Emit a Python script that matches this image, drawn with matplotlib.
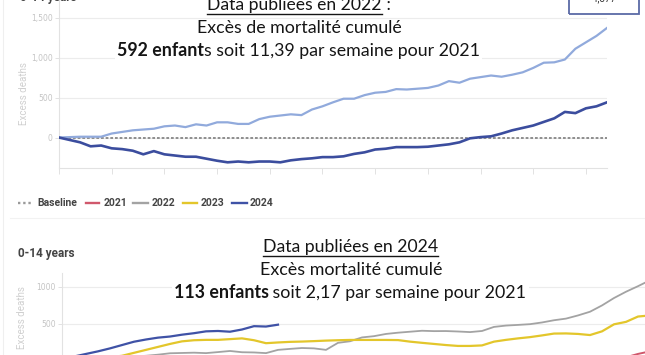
import matplotlib
matplotlib.use("Agg")
import matplotlib.pyplot as plt
from matplotlib.lines import Line2D
from matplotlib.patches import Rectangle

W, H = 645, 355
FONT = "Lato"

# ---------------- data (top chart: weekly cumulative excess deaths) ----------------
top_weeks = list(range(53))
top_light = [0, 5, 10, 10, 10, 50, 70, 90, 100, 110, 140, 150, 130, 165, 150, 190,
             190, 170, 170, 230, 260, 275, 290, 280, 350, 390, 440, 485, 485, 530,
             560, 570, 605, 600, 610, 620, 650, 705, 685, 735, 755, 775, 760, 785,
             815, 870, 935, 940, 975, 1110, 1190, 1270, 1370]
top_dark = [0, -30, -60, -110, -100, -135, -145, -165, -210, -170, -210, -225, -240,
            -240, -265, -290, -310, -300, -310, -300, -300, -310, -285, -270, -260,
            -245, -245, -235, -205, -185, -150, -140, -120, -120, -120, -115, -100,
            -85, -60, -10, 5, 15, 50, 90, 120, 150, 195, 240, 320, 305, 365, 390, 440]
top_yticks = [0, 500, 1000, 1500]
top_yticklabels = ["0", "500", "1,000", "1,500"]

# ---------------- data (bottom chart: 0-14 years) ----------------
s2024 = [0, 60, 95, 130, 170, 215, 260, 290, 315, 330, 355, 375, 400, 405, 395,
         425, 470, 465, 490]
s2023 = [0, 10, 20, 35, 50, 70, 110, 150, 190, 230, 265, 280, 285, 285, 295, 305,
         280, 240, 250, 258, 262, 268, 275, 280, 284, 284, 284, 284, 282, 261, 245,
         230, 215, 203, 203, 210, 261, 285, 305, 322, 345, 370, 372, 365, 350, 400,
         495, 528, 600, 615]
s2022 = [0, 10, 20, 30, 40, 50, 60, 70, 85, 104, 108, 112, 106, 120, 135, 118, 115,
         106, 150, 163, 175, 170, 150, 245, 266, 318, 335, 365, 382, 395, 408, 403,
         404, 398, 390, 405, 460, 478, 487, 497, 520, 550, 572, 615, 665, 750, 850,
         935, 1010, 1090]
s2021 = [0, -10, -20, -30, -35, -40, -45, -50, -55, -60, -60, -65, -70, -70, -75,
         -75, -80, -80, -85, -85, -90, -90, -90, -85, -85, -80, -80, -75, -75, -70,
         -70, -65, -60, -60, -55, -50, -50, -45, -40, -35, -30, -30, -25, -20, -15,
         0, 20, 50, 95, 130]
bot_yticks = [500, 1000]
bot_yticklabels = ["500", "1000"]

legend_labels = ["Baseline", "2021", "2022", "2023", "2024"]

# colours
C_LIGHT = "#91aadc"
C_DARK = "#3b4d9e"
C_RED = "#d0586c"
C_GRAY = "#a3a3a3"
C_YEL = "#e3c62b"
C_BLUE = "#3f52a6"
C_TICK = "#c4c4c4"
C_GRID = "#ececec"

fig = plt.figure(figsize=(W / 100, H / 100), dpi=100)
fig.patch.set_facecolor("white")


def fx(px):
    return px / W


def fy(py):
    return 1 - py / H


def style_axes(ax, yticks, ylabels):
    for s in ["top", "right"]:
        ax.spines[s].set_visible(False)
    for s in ["left", "bottom"]:
        ax.spines[s].set_color("#e2e2e2")
        ax.spines[s].set_linewidth(0.8)
    ax.set_yticks(yticks)
    ax.set_yticklabels(ylabels)
    ax.tick_params(axis="y", colors="#dddddd", labelcolor=C_TICK, labelsize=5.5,
                   length=3, width=0.6, pad=1.5)
    ax.tick_params(axis="x", colors="#dddddd", length=4, width=0.6,
                   labelbottom=False)
    ax.grid(axis="y", color=C_GRID, linewidth=0.8)
    ax.set_axisbelow(True)


# ---------------- top chart ----------------
ax1 = fig.add_axes([fx(59), fy(168), fx(607 - 59), 168 / H])
ax1.set_xlim(0, 52)
ax1.set_ylim(-381, 1719)
style_axes(ax1, top_yticks, top_yticklabels)
ax1.set_xticks(list(range(0, 53, 5)))
ax1.axhline(0, color="#8e8e8e", linewidth=1.4, linestyle=(0, (1.4, 1.0)), zorder=2)
ax1.plot(top_weeks, top_light, color=C_LIGHT, linewidth=1.6, zorder=3)
ax1.plot(top_weeks, top_dark, color=C_DARK, linewidth=1.9, zorder=3)
fig.text(fx(24), fy(94), "Excess deaths", rotation=90, ha="center", va="center",
         fontsize=7, color="#cfcfcf", family="Roboto")
fig.text(fx(20), fy(-3), "0-14 years", ha="left", va="center", fontsize=8.5,
         fontweight="bold", color="#444444", family="Roboto")

# ---------------- bottom chart ----------------
px_per_week = 12.0
bot_left, bot_right = 62, 709.5
ax2 = fig.add_axes([fx(bot_left), fy(376), fx(bot_right - bot_left), (376 - 273) / H])
ax2.set_xlim(0, (bot_right - bot_left) / px_per_week)
ax2.set_ylim(-203, 1188)
style_axes(ax2, bot_yticks, bot_yticklabels)
ax2.set_xticks([])
ax2.plot(range(len(s2021)), s2021, color=C_RED, linewidth=1.4, zorder=3)
ax2.plot(range(len(s2022)), s2022, color=C_GRAY, linewidth=1.3, zorder=3)
ax2.plot(range(len(s2023)), s2023, color=C_YEL, linewidth=1.6, zorder=3)
ax2.plot(range(len(s2024)), s2024, color=C_BLUE, linewidth=1.6, zorder=3)
fig.text(fx(22), fy(318), "Excess deaths", rotation=90, ha="center", va="center",
         fontsize=7, color="#cfcfcf", family="Roboto")
fig.text(fx(18), fy(253), "0-14 years", ha="left", va="center", fontsize=8.5,
         fontweight="bold", color="#444444", family="Roboto")

# ---------------- legend (between charts) ----------------
leg_y = 203
leg_items = [
    (18, 32, "#9a9a9a", (0, (1, 1.2)), 37),
    (86, 99, C_RED, "-", 104),
    (133, 148, C_GRAY, "-", 152),
    (183, 197, C_YEL, "-", 201),
    (232, 247, C_BLUE, "-", 250),
]
for (x0, x1, col, ls, tx), lab in zip(leg_items, legend_labels):
    fig.add_artist(Line2D([fx(x0), fx(x1)], [fy(leg_y), fy(leg_y)], color=col,
                          linewidth=1.7, linestyle=ls, transform=fig.transFigure))
    fig.text(fx(tx), fy(leg_y), lab, ha="left", va="center", fontsize=7.5,
             fontweight="bold", color="#444444", family="Roboto")

# faint panel borders
fig.add_artist(Line2D([fx(3), fx(3)], [0, 1], color="#efefef", linewidth=0.8,
                      transform=fig.transFigure))
fig.add_artist(Line2D([fx(10), 1], [fy(218), fy(218)], color="#f2f2f2", linewidth=0.8,
                      transform=fig.transFigure))

# top-right value box (cut off)
fig.add_artist(Rectangle((fx(569), fy(14)), fx(639 - 569), 30 / H, fill=False,
                         edgecolor="#5b6aa6", linewidth=1.3, transform=fig.transFigure))
fig.text(fx(604), fy(3), "1,377", ha="center", va="bottom", fontsize=7,
         color="#333333", family="Roboto")

# ---------------- overlay annotation text ----------------
renderer = fig.canvas.get_renderer()
BASE = 12


def rich_line(parts, cx, cy, target_w, white=False, underline_parts=0):
    texts = []
    widths = []
    for s, w in parts:
        t = fig.text(0, fy(cy), s, fontsize=BASE, fontweight=w, family=FONT,
                     ha="left", va="center", color="#151515", zorder=5)
        texts.append(t)
    total = sum(t.get_window_extent(renderer).width for t in texts)
    size = BASE * target_w / total
    for t in texts:
        t.set_fontsize(size)
        widths.append(t.get_window_extent(renderer).width)
    total = sum(widths)
    x = cx - total / 2
    starts = []
    for t, wdt in zip(texts, widths):
        t.set_x(fx(x))
        starts.append((x, x + wdt))
        x += wdt
    if white:
        x0 = starts[0][0] - 2
        x1 = starts[-1][1] + 2
        fig.add_artist(Rectangle((fx(x0), fy(cy + 9)), fx(x1 - x0), 18 / H,
                                 facecolor="white", edgecolor="none", zorder=4,
                                 transform=fig.transFigure))
    if underline_parts:
        x0 = starts[0][0]
        x1 = starts[underline_parts - 1][1]
        fig.add_artist(Line2D([fx(x0), fx(x1)], [fy(cy + 8.5), fy(cy + 8.5)],
                              color="#151515", linewidth=1.0, zorder=5,
                              transform=fig.transFigure))


rich_line([("Data publiées en 2022", "normal"), (" :", "normal")], 299, 5, 182,
          underline_parts=1)
rich_line([("Excès de mortalité cumulé", "normal")], 299, 28, 204)
rich_line([("592 enfant", "bold"), ("s soit 11,39 par semaine pour 2021", "normal")],
          298.5, 51, 361, white=True)

rich_line([("Data publiées en 2024", "normal")], 350.5, 247, 175, underline_parts=1)
rich_line([("Excès mortalité cumulé", "normal")], 351, 270, 182)
rich_line([("113 enfants", "bold"), (" soit 2,17 par semaine pour 2021", "normal")],
          350, 293, 350, white=True)

fig.savefig("out.png", dpi=100, facecolor="white")
